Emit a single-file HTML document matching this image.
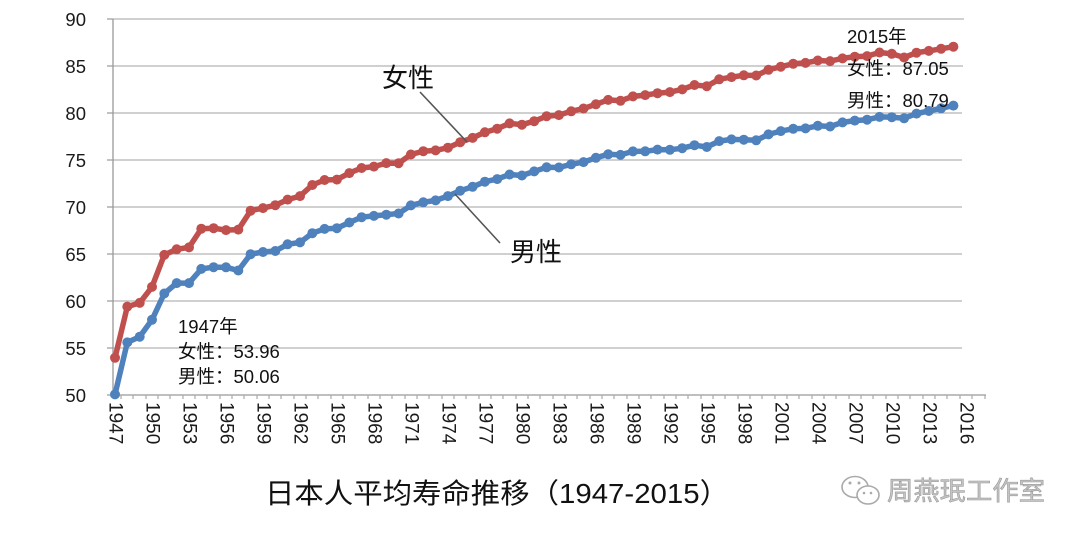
<!DOCTYPE html>
<html>
<head>
<meta charset="utf-8">
<style>
html,body{margin:0;padding:0;background:#fff;}
svg{display:block;}
text{font-family:"Liberation Sans","Noto Sans CJK SC",sans-serif;}
</style>
</head>
<body>
<svg width="1080" height="536" viewBox="0 0 1080 536" xmlns="http://www.w3.org/2000/svg">
<defs>
<marker id="mr" markerUnits="userSpaceOnUse" markerWidth="12" markerHeight="12" viewBox="0 0 12 12" refX="6" refY="6">
<circle cx="6" cy="6" r="5" fill="#C0504D"/>
</marker>
<marker id="mb" markerUnits="userSpaceOnUse" markerWidth="12" markerHeight="12" viewBox="0 0 12 12" refX="6" refY="6">
<circle cx="6" cy="6" r="5" fill="#4F81BD"/>
</marker>
</defs>
<rect width="1080" height="536" fill="#fff"/>

<!-- gridlines -->
<g stroke="#b4b4b4" stroke-width="1.2">
<line x1="113" y1="19" x2="964" y2="19"/>
<line x1="113" y1="66" x2="963" y2="66"/>
<line x1="113" y1="113" x2="962" y2="113"/>
<line x1="113" y1="160" x2="962" y2="160"/>
<line x1="113" y1="207" x2="962" y2="207"/>
<line x1="113" y1="254" x2="962" y2="254"/>
<line x1="113" y1="301" x2="962" y2="301"/>
<line x1="113" y1="348" x2="962" y2="348"/>
</g>
<!-- y ticks -->
<g stroke="#999" stroke-width="1.2">
<line x1="107" y1="19" x2="113" y2="19"/>
<line x1="107" y1="66" x2="113" y2="66"/>
<line x1="107" y1="113" x2="113" y2="113"/>
<line x1="107" y1="160" x2="113" y2="160"/>
<line x1="107" y1="207" x2="113" y2="207"/>
<line x1="107" y1="254" x2="113" y2="254"/>
<line x1="107" y1="301" x2="113" y2="301"/>
<line x1="107" y1="348" x2="113" y2="348"/>
<line x1="107" y1="395" x2="113" y2="395"/>
</g>
<!-- axes -->
<line x1="113" y1="19" x2="113" y2="395" stroke="#999" stroke-width="1.3"/>
<line x1="113" y1="395" x2="986" y2="395" stroke="#aaa" stroke-width="1.5"/>
<!-- x ticks -->
<g stroke="#aaa" stroke-width="1.2">
<line x1="121" y1="395" x2="121" y2="399"/><line x1="133" y1="395" x2="133" y2="399"/><line x1="146" y1="395" x2="146" y2="399"/><line x1="158" y1="395" x2="158" y2="399"/><line x1="170" y1="395" x2="170" y2="399"/><line x1="183" y1="395" x2="183" y2="399"/><line x1="195" y1="395" x2="195" y2="399"/><line x1="207" y1="395" x2="207" y2="399"/><line x1="220" y1="395" x2="220" y2="399"/><line x1="232" y1="395" x2="232" y2="399"/><line x1="244" y1="395" x2="244" y2="399"/><line x1="257" y1="395" x2="257" y2="399"/><line x1="269" y1="395" x2="269" y2="399"/><line x1="281" y1="395" x2="281" y2="399"/><line x1="294" y1="395" x2="294" y2="399"/><line x1="306" y1="395" x2="306" y2="399"/><line x1="318" y1="395" x2="318" y2="399"/><line x1="331" y1="395" x2="331" y2="399"/><line x1="343" y1="395" x2="343" y2="399"/><line x1="355" y1="395" x2="355" y2="399"/><line x1="368" y1="395" x2="368" y2="399"/><line x1="380" y1="395" x2="380" y2="399"/><line x1="392" y1="395" x2="392" y2="399"/><line x1="405" y1="395" x2="405" y2="399"/><line x1="417" y1="395" x2="417" y2="399"/><line x1="429" y1="395" x2="429" y2="399"/><line x1="442" y1="395" x2="442" y2="399"/><line x1="454" y1="395" x2="454" y2="399"/><line x1="466" y1="395" x2="466" y2="399"/><line x1="479" y1="395" x2="479" y2="399"/><line x1="491" y1="395" x2="491" y2="399"/><line x1="503" y1="395" x2="503" y2="399"/><line x1="516" y1="395" x2="516" y2="399"/><line x1="528" y1="395" x2="528" y2="399"/><line x1="540" y1="395" x2="540" y2="399"/><line x1="553" y1="395" x2="553" y2="399"/><line x1="565" y1="395" x2="565" y2="399"/><line x1="577" y1="395" x2="577" y2="399"/><line x1="590" y1="395" x2="590" y2="399"/><line x1="602" y1="395" x2="602" y2="399"/><line x1="614" y1="395" x2="614" y2="399"/><line x1="627" y1="395" x2="627" y2="399"/><line x1="639" y1="395" x2="639" y2="399"/><line x1="651" y1="395" x2="651" y2="399"/><line x1="664" y1="395" x2="664" y2="399"/><line x1="676" y1="395" x2="676" y2="399"/><line x1="688" y1="395" x2="688" y2="399"/><line x1="701" y1="395" x2="701" y2="399"/><line x1="713" y1="395" x2="713" y2="399"/><line x1="725" y1="395" x2="725" y2="399"/><line x1="738" y1="395" x2="738" y2="399"/><line x1="750" y1="395" x2="750" y2="399"/><line x1="762" y1="395" x2="762" y2="399"/><line x1="775" y1="395" x2="775" y2="399"/><line x1="787" y1="395" x2="787" y2="399"/><line x1="799" y1="395" x2="799" y2="399"/><line x1="812" y1="395" x2="812" y2="399"/><line x1="824" y1="395" x2="824" y2="399"/><line x1="836" y1="395" x2="836" y2="399"/><line x1="849" y1="395" x2="849" y2="399"/><line x1="861" y1="395" x2="861" y2="399"/><line x1="873" y1="395" x2="873" y2="399"/><line x1="886" y1="395" x2="886" y2="399"/><line x1="898" y1="395" x2="898" y2="399"/><line x1="910" y1="395" x2="910" y2="399"/><line x1="923" y1="395" x2="923" y2="399"/><line x1="935" y1="395" x2="935" y2="399"/><line x1="947" y1="395" x2="947" y2="399"/><line x1="960" y1="395" x2="960" y2="399"/><line x1="972" y1="395" x2="972" y2="399"/><line x1="985" y1="395" x2="985" y2="399"/>
</g>

<!-- y labels -->
<g font-size="18.5" fill="#1a1a1a" text-anchor="end">
<text x="86" y="26">90</text>
<text x="86" y="73">85</text>
<text x="86" y="120">80</text>
<text x="86" y="167">75</text>
<text x="86" y="214">70</text>
<text x="86" y="261">65</text>
<text x="86" y="308">60</text>
<text x="86" y="355">55</text>
<text x="86" y="402">50</text>
</g>

<!-- x labels -->
<g font-size="19" fill="#1a1a1a" dominant-baseline="central">
<text transform="translate(115,402) rotate(90)">1947</text>
<text transform="translate(152,402) rotate(90)">1950</text>
<text transform="translate(189,402) rotate(90)">1953</text>
<text transform="translate(226,402) rotate(90)">1956</text>
<text transform="translate(263,402) rotate(90)">1959</text>
<text transform="translate(300,402) rotate(90)">1962</text>
<text transform="translate(337,402) rotate(90)">1965</text>
<text transform="translate(374,402) rotate(90)">1968</text>
<text transform="translate(411,402) rotate(90)">1971</text>
<text transform="translate(448,402) rotate(90)">1974</text>
<text transform="translate(485,402) rotate(90)">1977</text>
<text transform="translate(522,402) rotate(90)">1980</text>
<text transform="translate(559,402) rotate(90)">1983</text>
<text transform="translate(596,402) rotate(90)">1986</text>
<text transform="translate(633,402) rotate(90)">1989</text>
<text transform="translate(670,402) rotate(90)">1992</text>
<text transform="translate(707,402) rotate(90)">1995</text>
<text transform="translate(744,402) rotate(90)">1998</text>
<text transform="translate(781,402) rotate(90)">2001</text>
<text transform="translate(818,402) rotate(90)">2004</text>
<text transform="translate(855,402) rotate(90)">2007</text>
<text transform="translate(892,402) rotate(90)">2010</text>
<text transform="translate(929,402) rotate(90)">2013</text>
<text transform="translate(966,402) rotate(90)">2016</text>
</g>

<!-- series: female -->
<polyline fill="none" stroke="#C0504D" stroke-width="5.5" stroke-linejoin="round" stroke-linecap="round" marker-start="url(#mr)" marker-mid="url(#mr)" marker-end="url(#mr)"
points="115.0,357.8 127.3,306.6 139.7,302.9 152.0,286.9 164.3,254.9 176.7,249.3 189.0,247.4 201.3,228.7 213.6,228.2 226.0,230.1 238.3,229.6 250.6,210.7 263.0,208.1 275.3,205.2 287.6,199.6 300.0,196.1 312.3,185.0 324.6,180.0 336.9,179.6 349.3,173.1 361.6,168.0 373.9,166.6 386.3,163.1 398.6,163.2 410.9,154.5 423.3,151.2 435.6,150.4 447.9,147.7 460.2,142.2 472.6,137.9 484.9,132.3 497.2,128.7 509.6,123.4 521.9,124.7 534.2,121.2 546.6,116.2 558.9,115.1 571.2,111.3 583.5,108.5 595.9,104.3 608.2,99.9 620.5,100.8 632.9,96.4 645.2,95.1 657.5,93.2 669.9,92.1 682.2,89.4 694.5,85.0 706.8,86.2 719.2,79.3 731.5,77.1 743.8,75.3 756.2,75.5 768.5,69.8 780.8,66.7 793.2,63.8 805.5,62.9 817.8,60.5 830.1,61.1 842.5,58.4 854.8,56.7 867.1,56.1 879.5,52.5 891.8,53.8 904.1,57.5 916.5,52.7 928.8,50.9 941.1,48.8 953.4,46.7"/>
<!-- series: male -->
<polyline fill="none" stroke="#4F81BD" stroke-width="5.5" stroke-linejoin="round" stroke-linecap="round" marker-start="url(#mb)" marker-mid="url(#mb)" marker-end="url(#mb)"
points="115.0,394.4 127.3,342.4 139.7,336.7 152.0,319.8 164.3,293.5 176.7,283.1 189.0,283.1 201.3,268.9 213.6,267.2 226.0,267.3 238.3,270.5 250.6,254.2 263.0,252.0 275.3,251.0 287.6,244.3 300.0,242.4 312.3,233.2 324.6,228.9 336.9,228.2 349.3,222.5 361.6,217.2 373.9,215.9 386.3,214.7 398.6,213.5 410.9,205.4 423.3,202.3 435.6,200.4 447.9,196.1 460.2,190.7 472.6,186.8 484.9,181.7 497.2,179.1 509.6,174.5 521.9,175.5 534.2,171.4 546.6,167.3 558.9,167.5 571.2,164.3 583.5,162.1 595.9,157.8 608.2,154.3 620.5,154.9 632.9,151.4 645.2,151.3 657.5,149.6 669.9,149.8 682.2,148.2 694.5,145.2 706.8,147.0 719.2,141.1 731.5,139.4 743.8,139.7 756.2,140.3 768.5,134.4 780.8,131.1 793.2,128.8 805.5,128.4 817.8,125.8 830.1,126.5 842.5,122.4 854.8,120.6 867.1,119.7 879.5,116.9 891.8,117.2 904.1,118.3 916.5,113.6 928.8,111.0 941.1,108.3 953.4,105.6"/>

<!-- leader lines -->
<line x1="420" y1="92" x2="467" y2="142" stroke="#555" stroke-width="1.6"/>
<line x1="500" y1="243" x2="455" y2="194" stroke="#555" stroke-width="1.6"/>

<!-- series labels -->
<g font-size="26" fill="#111">
<text x="382" y="87">女性</text>
<text x="510" y="261">男性</text>
</g>

<!-- annotations -->
<g font-size="18.5" fill="#111">
<text x="178" y="333">1947年</text>
<text x="178" y="358">女性：53.96</text>
<text x="178" y="383">男性：50.06</text>
<text x="847" y="43">2015年</text>
<text x="847" y="75">女性：87.05</text>
<text x="847" y="107">男性：80.79</text>
</g>

<!-- title -->
<text x="265" y="503" font-size="28" fill="#111" textLength="464" lengthAdjust="spacingAndGlyphs">日本人平均寿命推移（1947-2015）</text>

<!-- watermark -->
<g fill="#fff" stroke="#aaa" stroke-width="1.6">
<ellipse cx="855" cy="487" rx="13" ry="10.5"/>
<ellipse cx="868" cy="495" rx="11" ry="9"/>
</g>
<g fill="#aaa">
<circle cx="850" cy="483" r="1.5"/><circle cx="859" cy="483" r="1.5"/>
<circle cx="864" cy="493" r="1.3"/><circle cx="871" cy="493" r="1.3"/>
</g>
<text x="887" y="500" font-size="26" fill="#c4c4c4" stroke="#9a9a9a" stroke-width="0.6" textLength="158" lengthAdjust="spacingAndGlyphs">周燕珉工作室</text>
</svg>
</body>
</html>
